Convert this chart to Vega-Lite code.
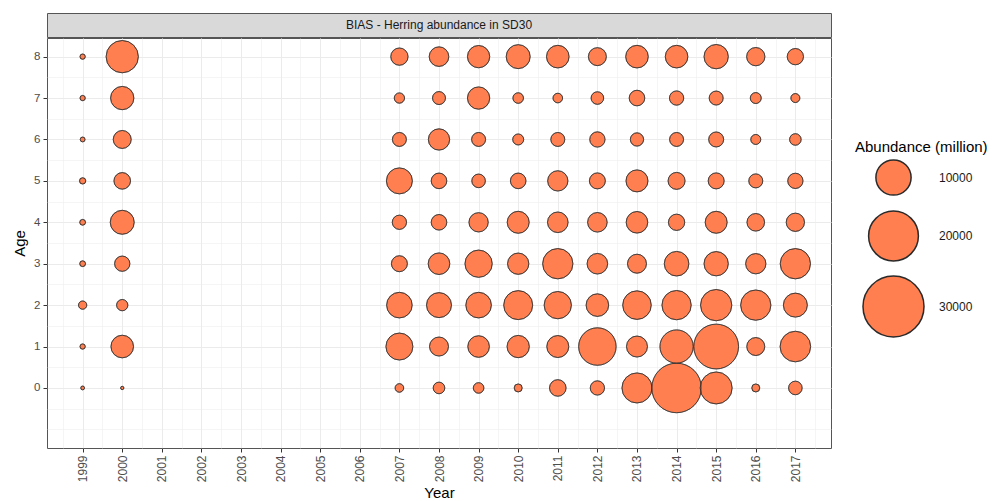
{
  "$schema": "https://vega.github.io/schema/vega-lite/v6.json",
  "padding": {"left": 12, "top": 12, "right": 0, "bottom": 0},
  "spacing": -3,
  "config": {
    "font": "Liberation Sans",
    "view": {"stroke": "#555555", "strokeWidth": 1},
    "concat": {"spacing": -3}
  },
  "vconcat": [
    {
      "width": 784,
      "height": 24,
      "view": {"fill": "#D9D9D9", "stroke": "#555555", "strokeWidth": 1},
      "data": {"values": [{"panel": "BIAS - Herring abundance in SD30"}]},
      "mark": {"type": "text", "fontSize": 12, "color": "#1A1A1A", "font": "Liberation Sans"},
      "encoding": {"text": {"field": "panel"}}
    },
    {
      "width": 784,
      "height": 410,
      "view": {"stroke": "#555555", "strokeWidth": 1},
      "data": {
        "values": [
          {"Year": 1999, "Age": 0, "Abundance": 116},
          {"Year": 1999, "Age": 1, "Abundance": 226},
          {"Year": 1999, "Age": 2, "Abundance": 555},
          {"Year": 1999, "Age": 3, "Abundance": 271},
          {"Year": 1999, "Age": 4, "Abundance": 271},
          {"Year": 1999, "Age": 5, "Abundance": 320},
          {"Year": 1999, "Age": 6, "Abundance": 186},
          {"Year": 1999, "Age": 7, "Abundance": 226},
          {"Year": 1999, "Age": 8, "Abundance": 226},
          {"Year": 2000, "Age": 0, "Abundance": 88},
          {"Year": 2000, "Age": 1, "Abundance": 4117},
          {"Year": 2000, "Age": 2, "Abundance": 1029},
          {"Year": 2000, "Age": 3, "Abundance": 1887},
          {"Year": 2000, "Age": 4, "Abundance": 4643},
          {"Year": 2000, "Age": 5, "Abundance": 2221},
          {"Year": 2000, "Age": 6, "Abundance": 2611},
          {"Year": 2000, "Age": 7, "Abundance": 4376},
          {"Year": 2000, "Age": 8, "Abundance": 8410},
          {"Year": 2007, "Age": 0, "Abundance": 596},
          {"Year": 2007, "Age": 1, "Abundance": 5876},
          {"Year": 2007, "Age": 2, "Abundance": 5282},
          {"Year": 2007, "Age": 3, "Abundance": 2063},
          {"Year": 2007, "Age": 4, "Abundance": 1648},
          {"Year": 2007, "Age": 5, "Abundance": 5449},
          {"Year": 2007, "Age": 6, "Abundance": 1580},
          {"Year": 2007, "Age": 7, "Abundance": 855},
          {"Year": 2007, "Age": 8, "Abundance": 2412},
          {"Year": 2008, "Age": 0, "Abundance": 1085},
          {"Year": 2008, "Age": 1, "Abundance": 2910},
          {"Year": 2008, "Age": 2, "Abundance": 5038},
          {"Year": 2008, "Age": 3, "Abundance": 3761},
          {"Year": 2008, "Age": 4, "Abundance": 1961},
          {"Year": 2008, "Age": 5, "Abundance": 1961},
          {"Year": 2008, "Age": 6, "Abundance": 3657},
          {"Year": 2008, "Age": 7, "Abundance": 1362},
          {"Year": 2008, "Age": 8, "Abundance": 3096},
          {"Year": 2009, "Age": 0, "Abundance": 906},
          {"Year": 2009, "Age": 1, "Abundance": 3761},
          {"Year": 2009, "Age": 2, "Abundance": 5282},
          {"Year": 2009, "Age": 3, "Abundance": 6007},
          {"Year": 2009, "Age": 4, "Abundance": 3002},
          {"Year": 2009, "Age": 5, "Abundance": 1491},
          {"Year": 2009, "Age": 6, "Abundance": 1580},
          {"Year": 2009, "Age": 7, "Abundance": 4008},
          {"Year": 2009, "Age": 8, "Abundance": 4008},
          {"Year": 2010, "Age": 0, "Abundance": 516},
          {"Year": 2010, "Age": 1, "Abundance": 4008},
          {"Year": 2010, "Age": 2, "Abundance": 6778},
          {"Year": 2010, "Age": 3, "Abundance": 3657},
          {"Year": 2010, "Age": 4, "Abundance": 3901},
          {"Year": 2010, "Age": 5, "Abundance": 1961},
          {"Year": 2010, "Age": 6, "Abundance": 975},
          {"Year": 2010, "Age": 7, "Abundance": 906},
          {"Year": 2010, "Age": 8, "Abundance": 4643},
          {"Year": 2011, "Age": 0, "Abundance": 2221},
          {"Year": 2011, "Age": 1, "Abundance": 3901},
          {"Year": 2011, "Age": 2, "Abundance": 6007},
          {"Year": 2011, "Age": 3, "Abundance": 7400},
          {"Year": 2011, "Age": 4, "Abundance": 3420},
          {"Year": 2011, "Age": 5, "Abundance": 3321},
          {"Year": 2011, "Age": 6, "Abundance": 1580},
          {"Year": 2011, "Age": 7, "Abundance": 743},
          {"Year": 2011, "Age": 8, "Abundance": 4117},
          {"Year": 2012, "Age": 0, "Abundance": 1648},
          {"Year": 2012, "Age": 1, "Abundance": 11334},
          {"Year": 2012, "Age": 2, "Abundance": 4117},
          {"Year": 2012, "Age": 3, "Abundance": 3420},
          {"Year": 2012, "Age": 4, "Abundance": 3096},
          {"Year": 2012, "Age": 5, "Abundance": 2063},
          {"Year": 2012, "Age": 6, "Abundance": 1887},
          {"Year": 2012, "Age": 7, "Abundance": 1280},
          {"Year": 2012, "Age": 8, "Abundance": 2611},
          {"Year": 2013, "Age": 0, "Abundance": 7302},
          {"Year": 2013, "Age": 1, "Abundance": 3554},
          {"Year": 2013, "Age": 2, "Abundance": 6593},
          {"Year": 2013, "Age": 3, "Abundance": 2910},
          {"Year": 2013, "Age": 4, "Abundance": 3761},
          {"Year": 2013, "Age": 5, "Abundance": 3901},
          {"Year": 2013, "Age": 6, "Abundance": 1426},
          {"Year": 2013, "Age": 7, "Abundance": 1961},
          {"Year": 2013, "Age": 8, "Abundance": 4117},
          {"Year": 2014, "Age": 0, "Abundance": 19829},
          {"Year": 2014, "Age": 1, "Abundance": 8938},
          {"Year": 2014, "Age": 2, "Abundance": 6919},
          {"Year": 2014, "Age": 3, "Abundance": 4878},
          {"Year": 2014, "Age": 4, "Abundance": 2141},
          {"Year": 2014, "Age": 5, "Abundance": 2329},
          {"Year": 2014, "Age": 6, "Abundance": 1580},
          {"Year": 2014, "Age": 7, "Abundance": 1648},
          {"Year": 2014, "Age": 8, "Abundance": 4117},
          {"Year": 2015, "Age": 0, "Abundance": 8253},
          {"Year": 2015, "Age": 1, "Abundance": 16177},
          {"Year": 2015, "Age": 2, "Abundance": 7896},
          {"Year": 2015, "Age": 3, "Abundance": 4759},
          {"Year": 2015, "Age": 4, "Abundance": 3901},
          {"Year": 2015, "Age": 5, "Abundance": 2063},
          {"Year": 2015, "Age": 6, "Abundance": 1814},
          {"Year": 2015, "Age": 7, "Abundance": 1580},
          {"Year": 2015, "Age": 8, "Abundance": 4759},
          {"Year": 2016, "Age": 0, "Abundance": 516},
          {"Year": 2016, "Age": 1, "Abundance": 2611},
          {"Year": 2016, "Age": 2, "Abundance": 7400},
          {"Year": 2016, "Age": 3, "Abundance": 3321},
          {"Year": 2016, "Age": 4, "Abundance": 2497},
          {"Year": 2016, "Age": 5, "Abundance": 1580},
          {"Year": 2016, "Age": 6, "Abundance": 806},
          {"Year": 2016, "Age": 7, "Abundance": 975},
          {"Year": 2016, "Age": 8, "Abundance": 2699},
          {"Year": 2017, "Age": 0, "Abundance": 1491},
          {"Year": 2017, "Age": 1, "Abundance": 7546},
          {"Year": 2017, "Age": 2, "Abundance": 4643},
          {"Year": 2017, "Age": 3, "Abundance": 7400},
          {"Year": 2017, "Age": 4, "Abundance": 2699},
          {"Year": 2017, "Age": 5, "Abundance": 1887},
          {"Year": 2017, "Age": 6, "Abundance": 1085},
          {"Year": 2017, "Age": 7, "Abundance": 653},
          {"Year": 2017, "Age": 8, "Abundance": 2141}
        ]
      },
      "resolve": {"axis": {"x": "independent", "y": "independent"}},
      "encoding": {
        "size": {
          "field": "Abundance",
          "type": "quantitative",
          "title": "Abundance (million)",
          "scale": {"domain": [0, 30000], "range": [0, 3721], "zero": true},
          "legend": {
            "orient": "none",
            "legendX": 808,
            "legendY": 127,
            "values": [10000, 20000, 30000],
            "format": "d",
            "titleFontSize": 15,
            "titleFontWeight": "normal",
            "titleColor": "#000000",
            "titlePadding": 4,
            "labelFontSize": 12,
            "labelColor": "#1A1A1A",
            "labelOffset": 14,
            "symbolOffset": 7,
            "rowPadding": 9,
            "symbolType": "circle",
            "encode": {
              "symbols": {
                "fill": {"value": "#FF7F50"},
                "stroke": {"value": "#2A2A2A"},
                "strokeWidth": {"value": 0.9},
                "opacity": {"value": 1}
              }
            }
          }
        }
      },
      "layer": [
        {
          "mark": {"type": "point", "shape": "circle", "filled": true, "fill": "#FF7F50", "stroke": "#2A2A2A", "strokeWidth": 0.7, "opacity": 1},
          "encoding": {
            "x": {
              "field": "Year",
              "type": "quantitative",
              "scale": {"domain": [1998.1, 2017.9], "nice": false, "zero": false},
              "axis": {
                "orient": "top",
                "title": null,
                "values": [1998.5, 1999.5, 2000.5, 2001.5, 2002.5, 2003.5, 2004.5, 2005.5, 2006.5, 2007.5, 2008.5, 2009.5, 2010.5, 2011.5, 2012.5, 2013.5, 2014.5, 2015.5, 2016.5, 2017.5],
                "labels": false,
                "ticks": false,
                "domain": false,
                "grid": true,
                "gridColor": "#EBEBEB",
                "gridWidth": 0.5
              }
            },
            "y": {
              "field": "Age",
              "type": "quantitative",
              "scale": {"domain": [-1.45, 8.45], "nice": false, "zero": false},
              "axis": {
                "orient": "right",
                "title": null,
                "values": [-1, -0.5, 0.5, 1.5, 2.5, 3.5, 4.5, 5.5, 6.5, 7.5],
                "labels": false,
                "ticks": false,
                "domain": false,
                "grid": true,
                "gridColor": "#EBEBEB",
                "gridWidth": 0.5
              }
            }
          }
        },
        {
          "mark": {"type": "point", "shape": "circle", "filled": false, "stroke": "#2A2A2A", "strokeWidth": 0.5, "opacity": 1},
          "encoding": {
            "x": {
              "field": "Year",
              "type": "quantitative",
              "axis": {
                "orient": "bottom",
                "title": "Year",
                "titleFontSize": 15,
                "titleFontWeight": "normal",
                "titleColor": "#000000",
                "titlePadding": 4,
                "values": [1999, 2000, 2001, 2002, 2003, 2004, 2005, 2006, 2007, 2008, 2009, 2010, 2011, 2012, 2013, 2014, 2015, 2016, 2017],
                "format": "d",
                "labelAngle": 270,
                "labelFontSize": 12,
                "labelColor": "#4D4D4D",
                "labelPadding": 3,
                "labelFlush": false,
                "labelOverlap": false,
                "domain": false,
                "tickSize": 4,
                "tickColor": "#333333",
                "grid": true,
                "gridColor": "#EBEBEB",
                "gridWidth": 1
              }
            },
            "y": {
              "field": "Age",
              "type": "quantitative",
              "axis": {
                "orient": "left",
                "title": "Age",
                "titleFontSize": 15,
                "titleFontWeight": "normal",
                "titleColor": "#000000",
                "titlePadding": 6,
                "values": [0, 1, 2, 3, 4, 5, 6, 7, 8],
                "format": "d",
                "labelFontSize": 11.5,
                "labelColor": "#4D4D4D",
                "labelPadding": 3,
                "labelFlush": false,
                "labelOverlap": false,
                "domain": false,
                "tickSize": 4,
                "tickColor": "#333333",
                "grid": true,
                "gridColor": "#EBEBEB",
                "gridWidth": 1
              }
            }
          }
        }
      ]
    }
  ]
}
